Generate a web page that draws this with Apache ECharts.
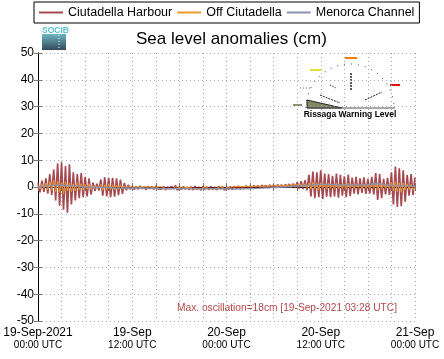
<!DOCTYPE html>
<html><head><meta charset="utf-8">
<script src="https://cdn.jsdelivr.net/npm/echarts@6/dist/echarts.min.js"></script>
<style>html,body{margin:0;padding:0;background:#fff}#c{width:444px;height:359px}</style>
</head><body><div id="c"></div>
<script>
// time step (hours) of each series
var harbourStep = 0.25, offStep = 0.25, channelStep = 1;
var seriesNames = ['Ciutadella Harbour', 'Off Ciutadella', 'Menorca Channel'];
var xTickMain = ['19-Sep-2021', '19-Sep', '20-Sep', '20-Sep', '21-Sep'];
var xTickSub = ['00:00 UTC', '12:00 UTC', '00:00 UTC', '12:00 UTC', '00:00 UTC'];
var yTicks = [-50, -40, -30, -20, -10, 0, 10, 20, 30, 40, 50];
var annotation = 'Max. oscillation=18cm [19-Sep-2021 03:28 UTC]';

var harbour = [
 1.5,-2,2.4,-1.8,3.2,-2.5,4.8,-3,
 6.5,-5,8.8,-7,9.2,-8.5,7.8,-9.6,
 8.5,-6.5,5.5,-5,4.8,-4.2,5.2,-3.8,
 3.8,-3.5,3.2,-2.8,1.6,-1.4,1.2,-1.3,
 2.8,-3.2,3.6,-3.5,3.3,-3.8,3.4,-3.6,
 3.2,-3,2.8,-2.6,1.5,-1.2,0.8,-0.9,
 0.3,-0.9,0.2,-0.8,0.4,-0.7,0.1,-1.0,0.3,-0.6,
 0.2,-0.9,0.4,-0.7,0.0,-0.8,0.2,-1.1,0.1,-0.7,
 0.3,-0.8,0.6,-1.2,0.1,-0.9,0.2,-0.8,0.0,-1.0,
 0.1,-1.1,0.3,-0.9,0.0,-1.2,0.2,-0.8,0.1,-1.0,
 0.2,-0.9,0.0,-1.1,0.3,-0.8,0.1,-1.2,0.0,-0.9,
 0.2,-1.0,0.3,-0.7,0.4,-0.8,0.2,-0.6,0.5,-0.5,
 0.4,-0.6,0.6,-0.4,0.5,-0.5,0.7,-0.3,0.6,-0.4,
 0.8,-0.2,0.7,-0.3,0.9,-0.1,0.8,-0.2,1.0,0.0,
 1.1,-0.2,1.3,-0.3,
 1.8,-0.6,2.2,-0.8,2.5,-1.2,
 4.5,-3.5,5.8,-4.2,5.5,-3.8,6.2,-4.5,5.0,-3.6,
 4.8,-3.8,4.2,-3.5,5.0,-4.0,4.5,-3.2,4.0,-3.8,4.6,-3.4,
 3.5,-2.5,3.8,-2.8,3.2,-2.2,3.6,-2.6,3.0,-2.4,3.8,-2.8,
 5.2,-4.8,4.8,-4.2,3.0,-2.8,3.4,-3.0,
 5.5,-6.5,7.6,-7.4,7.0,-7.2,6.2,-5.5,
 4.5,-3.2,4.8,-3.0,3.5
];
var offCiutadella = [
 0.5,-0.8,1.0,-0.5,1.5,-1.0,2.0,-1.2,
 2.5,-1.8,2.2,-2.0,1.8,-2.5,2.0,-1.5,
 1.5,-1.8,1.2,-1.5,1.6,-1.0,1.2,-1.2,
 1.0,-0.8,1.2,-1.0,0.5,-0.6,0.4,-0.5,
 1.0,-1.2,0.8,-1.0,1.2,-0.9,0.8,-1.1,
 0.7,-0.8,0.9,-0.6,0.4,-0.5,0.3,-0.4,
 0.0,-0.6,0.1,-0.5,-0.1,-0.7,0.0,-0.6,0.1,-0.5,
 0.0,-0.7,-0.1,-0.6,0.1,-0.5,0.0,-0.8,-0.1,-0.6,
 0.0,-0.7,0.1,-0.6,-0.1,-0.8,0.0,-0.6,-0.2,-0.7,
 0.0,-0.8,-0.1,-0.7,0.0,-0.9,-0.1,-0.6,0.0,-0.8,
 -0.1,-0.7,0.0,-0.8,0.1,-0.6,0.0,-0.9,-0.1,-0.7,
 0.0,-0.6,0.1,-0.5,0.2,-0.5,0.1,-0.4,0.2,-0.3,
 0.3,-0.3,0.2,-0.2,0.4,-0.2,0.3,-0.1,0.4,-0.2,
 0.5,0.0,0.4,-0.1,0.6,0.0,0.5,-0.1,0.6,0.1,
 0.7,0.0,0.8,0.1,
 0.9,0.2,1.0,0.0,1.2,-0.2,
 1.5,-0.8,1.8,-0.6,1.4,-1.0,1.6,-0.5,1.2,-0.8,
 1.4,-0.4,1.2,-0.8,1.5,-0.6,1.0,-0.5,1.2,-0.9,1.4,-0.3,
 1.0,-0.5,1.2,-0.2,0.9,-0.6,1.1,-0.4,0.8,-0.5,1.2,-0.3,
 1.6,-1.2,1.4,-0.8,1.0,-0.5,1.1,-0.6,
 1.8,-1.5,2.0,-1.8,1.6,-2.0,1.5,-1.2,
 1.2,-0.8,1.0,-1.2,0.6
];
var menorcaChannel = [
 0.0,0.3,0.6,0.8,0.5,0.3,0.0,-0.2,0.0,-0.2,-0.5,-0.4,-0.3,
 -0.4,-0.5,-0.5,-0.6,-0.6,-0.5,-0.6,-0.7,-0.7,-0.7,-0.6,
 -0.7,-0.8,-0.7,-0.6,-0.5,-0.3,-0.2,0.0,0.1,0.3,0.5,0.8,
 1.0,1.0,0.9,0.8,0.8,0.7,0.9,1.3,1.0,0.6,0.5,0.4,0.3
];

function pairs(arr, step) { return arr.map(function (v, i) { return [i * step, v]; }); }

var chart = echarts.init(document.getElementById('c'), null, {renderer: 'canvas'});
var FONT = 'Liberation Sans, Arial, sans-serif';
var grid = {left: 38, right: 29, top: 53, bottom: 38};
var dotted = {show: true, lineStyle: {type: [1, 3], color: '#aaaaaa', width: 1}};

chart.setOption({
  animation: false,
  backgroundColor: '#fff',
  textStyle: {fontFamily: FONT},
  title: {
    text: 'Sea level anomalies (cm)', left: 131, top: 26,
    textStyle: {fontSize: 17, fontWeight: 'normal', color: '#000', fontFamily: FONT}
  },
  legend: {
    data: seriesNames, left: 34, top: 2, padding: [4, 5], itemGap: 5,
    itemWidth: 24, itemHeight: 2, icon: 'rect',
    borderColor: '#000', borderWidth: 1, borderRadius: 0,
    textStyle: {fontSize: 12.5, color: '#000', fontFamily: FONT}
  },
  grid: grid,
  xAxis: [{
    type: 'value', min: 0, max: 48, interval: 3, position: 'bottom',
    axisLine: {lineStyle: {color: '#000', width: 1}},
    axisTick: {inside: true, length: 4, lineStyle: {color: '#777'}},
    splitLine: dotted,
    axisLabel: {
      margin: 5, color: '#000', fontFamily: FONT,
      formatter: function (v) {
        if (v % 12 !== 0) return '';
        var k = v / 12;
        return '{a|' + xTickMain[k] + '}\n{b|' + xTickSub[k] + '}';
      },
      rich: {a: {fontSize: 12, lineHeight: 13, color: '#000', fontFamily: FONT},
             b: {fontSize: 10, lineHeight: 12, color: '#000', fontFamily: FONT}}
    }
  }, {
    type: 'value', min: 0, max: 48, interval: 3, position: 'top',
    axisLine: {lineStyle: {color: '#000', width: 1}},
    axisTick: {inside: true, length: 4, lineStyle: {color: '#777'}},
    axisLabel: {show: false}, splitLine: {show: false}
  }],
  yAxis: [{
    type: 'value', min: yTicks[0], max: yTicks[yTicks.length - 1], interval: 10,
    axisLine: {show: true, lineStyle: {color: '#000', width: 1}},
    axisTick: {show: true, inside: true, length: 4, lineStyle: {color: '#777'}},
    splitLine: dotted,
    axisLabel: {margin: 4, fontSize: 12, color: '#000', fontFamily: FONT}
  }, {
    type: 'value', min: yTicks[0], max: yTicks[yTicks.length - 1], interval: 10, position: 'right',
    axisLine: {show: true, lineStyle: {color: '#000', width: 1}},
    axisTick: {show: true, inside: true, length: 4, lineStyle: {color: '#777'}},
    splitLine: {show: false}, axisLabel: {show: false}
  }],
  series: [{
    name: seriesNames[0], type: 'line', data: pairs(harbour, harbourStep),
    showSymbol: false, symbol: 'none', color: 'rgba(150,42,50,0.85)',
    lineStyle: {width: 1.7}
  }, {
    name: seriesNames[1], type: 'line', data: pairs(offCiutadella, offStep),
    showSymbol: false, symbol: 'none', color: '#eb9a2a',
    lineStyle: {width: 1}
  }, {
    name: seriesNames[2], type: 'line', data: pairs(menorcaChannel, channelStep),
    showSymbol: false, symbol: 'none', color: '#8a93ad',
    lineStyle: {width: 1.3}
  }],
  graphic: [
    // SOCIB logo
    {type: 'text', left: 42, top: 26, style: {text: 'SOCIB', fill: '#5cc0d0', font: 'bold 8.5px ' + FONT}},
    {type: 'rect', shape: {x: 42, y: 34, width: 24, height: 16},
      style: {fill: new echarts.graphic.LinearGradient(0, 0, 0, 1, [{offset: 0, color: '#6fb4c4'}, {offset: 1, color: '#34495a'}])}},
    {type: 'line', shape: {x1: 59, y1: 35, x2: 59, y2: 49}, style: {stroke: '#fff', lineDash: [1, 2], lineWidth: 1}},
    // Rissaga warning level inset
    {type: 'arc', shape: {cx: 350, cy: 108, r: 44, startAngle: Math.PI, endAngle: 2 * Math.PI},
      style: {stroke: '#333', fill: 'none', lineDash: [1, 6], lineWidth: 1}},
    {type: 'polygon', shape: {points: [[307, 100], [307, 108], [342, 108]]},
      style: {fill: '#7f8a62', stroke: '#222', lineWidth: 1}},
    {type: 'line', shape: {x1: 307, y1: 108, x2: 395, y2: 108}, style: {stroke: '#555', lineWidth: 1}},
    {type: 'line', shape: {x1: 320, y1: 95, x2: 340, y2: 103}, style: {stroke: '#222', lineDash: [2, 1], lineWidth: 1}},
    {type: 'line', shape: {x1: 365, y1: 100, x2: 382, y2: 92}, style: {stroke: '#222', lineDash: [2, 1], lineWidth: 1}},
    {type: 'line', shape: {x1: 351, y1: 73, x2: 351, y2: 90}, style: {stroke: '#222', lineDash: [2, 1], lineWidth: 1.5}},
    {type: 'line', shape: {x1: 330, y1: 85, x2: 336, y2: 88}, style: {stroke: '#222', lineDash: [1, 1], lineWidth: 1}},
    {type: 'rect', shape: {x: 345, y: 57, width: 12, height: 2}, style: {fill: '#f08000'}},
    {type: 'rect', shape: {x: 310, y: 69, width: 11, height: 2}, style: {fill: '#e8e030'}},
    {type: 'rect', shape: {x: 390, y: 84, width: 10, height: 2}, style: {fill: '#e01010'}},
    {type: 'line', shape: {x1: 300, y1: 88, x2: 312, y2: 88}, style: {stroke: '#777', lineDash: [1, 2], lineWidth: 1}},
    {type: 'rect', shape: {x: 293, y: 104, width: 9, height: 2}, style: {fill: '#8a9070'}},
    {type: 'text', x: 350, y: 115, style: {text: 'Rissaga Warning Level', fill: '#000', font: 'bold 8.5px ' + FONT, align: 'center', verticalAlign: 'middle'}},
    // annotation
    {type: 'text', x: 397, y: 308, style: {text: annotation, fill: '#b34848', font: '10.2px ' + FONT, align: 'right', verticalAlign: 'middle'}}
  ]
});
</script></body></html>
